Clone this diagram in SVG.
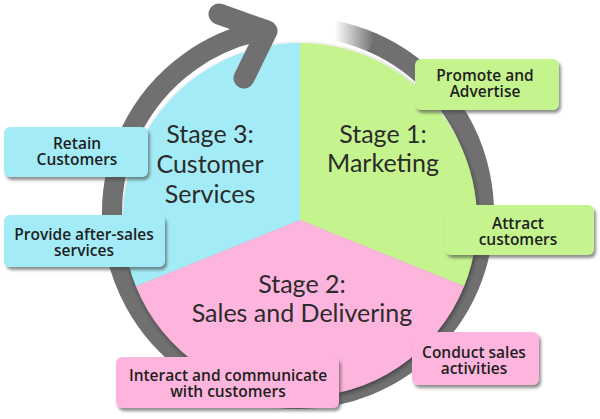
<svg xmlns="http://www.w3.org/2000/svg" width="600" height="419" viewBox="0 0 600 419">
  <defs>
    <style>
      .stage { font-family: Lato, "Open Sans", "Liberation Sans", sans-serif; font-size: 25px; fill: #2b2b2b; text-anchor: middle; }
      .lbl { font-family: "Open Sans", "Liberation Sans", sans-serif; font-size: 15.5px; font-weight: 600; fill: #1e1e1e; text-anchor: middle; }
      .box { stroke: none; filter: url(#sh); }
      .g { fill: #c5f48f; }
      .c { fill: #a3ecf7; }
      .p { fill: #fdb5dd; }
      .ring { fill: none; stroke: #707070; stroke-width: 20; }
    </style>
    <filter id="sh" x="-10%" y="-20%" width="130%" height="150%">
      <feDropShadow dx="2" dy="3" stdDeviation="1.5" flood-color="#444" flood-opacity="0.6"/>
    </filter>
    <filter id="psh" x="-10%" y="-10%" width="120%" height="120%">
      <feDropShadow dx="1" dy="2" stdDeviation="2" flood-color="#222" flood-opacity="0.6"/>
    </filter>
    <linearGradient id="fade" gradientUnits="userSpaceOnUse" x1="335" y1="0" x2="374" y2="0">
      <stop offset="0" stop-color="#ffffff"/>
      <stop offset="1" stop-color="#707070"/>
    </linearGradient>
  </defs>

  <g id="cycle">
    <path class="ring" d="M335,30.7 A186,186 0 0 1 373,42.8" style="stroke:url(#fade)"/>
    <path class="ring" d="M372,42.4 A186,186 0 1 1 266,29.8"/>
  </g>

  <g id="pie" filter="url(#psh)">
    <path id="sector-marketing" class="g" d="M300,220 L300,43 A177,177 0 0 1 464.1,286.3 Z"/>
    <path id="sector-sales" class="p" d="M300,220 L464.1,286.3 A177,177 0 0 1 135.9,286.3 Z"/>
    <path id="sector-service" class="c" d="M300,220 L135.9,286.3 A177,177 0 0 1 300,43 Z"/>
  </g>

  <g id="arrowhead">
    <polyline points="219,14 267,31 244,78" fill="none" stroke="#707070" stroke-width="21" stroke-linejoin="round" stroke-linecap="round"/>
  </g>

  <g id="stage1">
    <text class="stage" x="383" y="143">Stage 1:</text>
    <text class="stage" x="383" y="172">Marketing</text>
  </g>
  <g id="stage2">
    <text class="stage" x="302" y="293">Stage 2:</text>
    <text class="stage" x="302" y="322">Sales and Delivering</text>
  </g>
  <g id="stage3">
    <text class="stage" x="210" y="143">Stage 3:</text>
    <text class="stage" x="210" y="173">Customer</text>
    <text class="stage" x="210" y="203">Services</text>
  </g>

  <g id="promote">
    <rect class="box g" x="415" y="59" width="144" height="51" rx="6"/>
    <text class="lbl" x="485" y="81">Promote and</text>
    <text class="lbl" x="485" y="97">Advertise</text>
  </g>
  <g id="attract">
    <rect class="box g" x="445" y="205" width="149" height="50" rx="6"/>
    <text class="lbl" x="518" y="229">Attract</text>
    <text class="lbl" x="518" y="245">customers</text>
  </g>
  <g id="conduct">
    <rect class="box p" x="412" y="332" width="127" height="53" rx="6"/>
    <text class="lbl" x="474" y="358">Conduct sales</text>
    <text class="lbl" x="474" y="374">activities</text>
  </g>
  <g id="interact">
    <rect class="box p" x="116" y="357" width="223" height="51" rx="6"/>
    <text class="lbl" x="228" y="381">Interact and communicate</text>
    <text class="lbl" x="228" y="397">with customers</text>
  </g>
  <g id="retain">
    <rect class="box c" x="4" y="127" width="144" height="50" rx="6"/>
    <text class="lbl" x="77" y="149">Retain</text>
    <text class="lbl" x="77" y="165">Customers</text>
  </g>
  <g id="after-sales">
    <rect class="box c" x="4" y="215" width="161" height="52" rx="6"/>
    <text class="lbl" x="84" y="240">Provide after-sales</text>
    <text class="lbl" x="84" y="256">services</text>
  </g>
</svg>
